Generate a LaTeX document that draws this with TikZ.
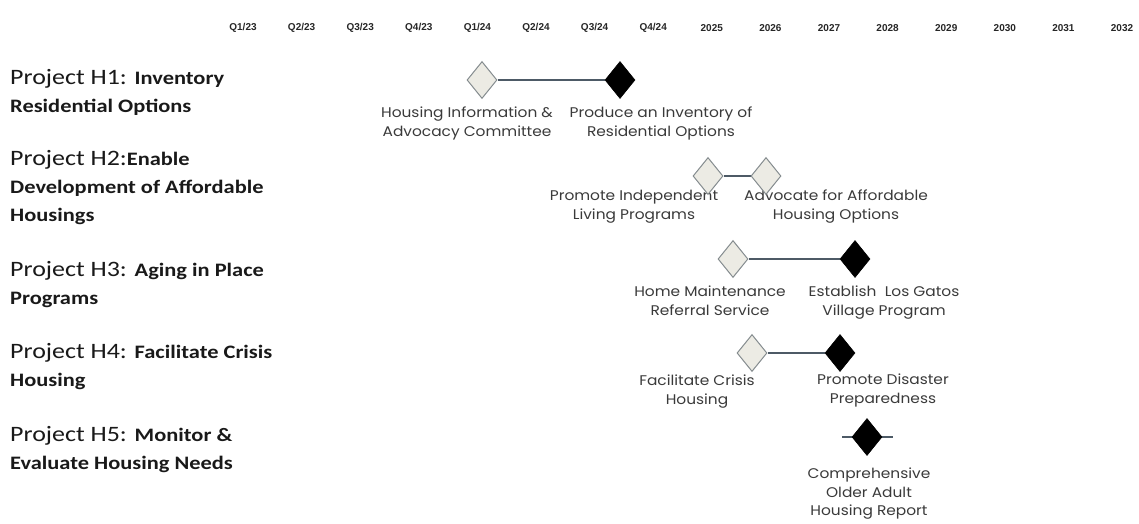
\documentclass[tikz,border=0pt]{standalone}
\usepackage{fontspec}
\setmainfont{Carlito}
\newfontfamily\projfont[FakeStretch=1.18]{Carlito}
\newfontfamily\gothic[FakeStretch=1.1]{Poppins}
\newfontfamily\hdrfont{Liberation Sans}
\usetikzlibrary{shapes.geometric}
\pgfdeclarelayer{background}
\pgfsetlayers{background,main}
\definecolor{msborder}{HTML}{858C8F}
\definecolor{msfill}{HTML}{ECEBE4}
\definecolor{linkc}{HTML}{4D5A66}
\definecolor{lbltext}{HTML}{3A3A3A}
\newcommand{\projb}[1]{{\fontsize{19}{28}\selectfont\bfseries #1}}
\begin{document}
\begin{tikzpicture}[x=1pt,y=-1pt,
  hdrlbl/.style={font=\hdrfont\bfseries\fontsize{10}{12}\selectfont, text=black!85, inner sep=0pt},
  proj/.style={font=\projfont\fontsize{22}{28}\selectfont, align=left, anchor=west, inner sep=0pt, text=black!90},
  ms/.style={diamond, draw=msborder, fill=msfill, line width=1pt, minimum width=30pt, minimum height=37pt, inner sep=0pt},
  msdone/.style={diamond, draw=black, fill=black, line width=0.6pt, minimum width=30pt, minimum height=37pt, inner sep=0pt},
  mslbl/.style={font=\gothic\fontsize{14}{18.5}\selectfont, align=center, anchor=north, inner sep=0pt, text=lbltext},
  link/.style={draw=linkc, line width=1.3pt}]
\useasboundingbox (0,0) rectangle (1139,523);

% header
\foreach \t [count=\i from 0] in {Q1/23,Q2/23,Q3/23,Q4/23,Q1/24,Q2/24,Q3/24,Q4/24,2025,2026,2027,2028,2029,2030,2031,2032}
  \node[hdrlbl] (hq\i) at ({243+58.6*\i},28) {\t};

% project labels
\node[proj] (p1) at (10,92) {Project H1: \projb{Inventory}\\\projb{Residential Options}};
\node[proj] (p2) at (10,188) {Project H2:\projb{Enable}\\\projb{Development of Affordable}\\\projb{Housings}};
\node[proj] (p3) at (10,285) {Project H3: \projb{Aging in Place}\\\projb{Programs}};
\node[proj] (p4) at (10,367) {Project H4: \projb{Facilitate Crisis}\\\projb{Housing}};
\node[proj] (p5) at (10,450) {Project H5: \projb{Monitor \&}\\\projb{Evaluate Housing Needs}};

% milestone labels
\node[mslbl] (l1a) at (467,107) {Housing Information \&\\Advocacy Committee};
\node[mslbl] (l1b) at (661,107) {Produce an Inventory of\\Residential Options};
\node[mslbl] (l2a) at (634,190) {Promote Independent\\Living Programs};
\node[mslbl] (l2b) at (836,190) {Advocate for Affordable\\Housing Options};
\node[mslbl] (l3a) at (710,286) {Home Maintenance\\Referral Service};
\node[mslbl] (l3b) at (884,286) {Establish\ \ Los Gatos\\Village Program};
\node[mslbl] (l4a) at (697,375) {Facilitate Crisis\\Housing};
\node[mslbl] (l4b) at (883,374) {Promote Disaster\\Preparedness};
\node[mslbl] (l5a) at (869,468) {Comprehensive\\Older Adult\\Housing Report};

% milestones
\node[ms] (m1a) at (482,80) {};
\node[msdone] (m1b) at (620,80) {};
\node[ms] (m2a) at (708,176) {};
\node[ms] (m2b) at (766,176) {};
\node[ms] (m3a) at (733,259) {};
\node[msdone] (m3b) at (855,259) {};
\node[ms] (m4a) at (752,353) {};
\node[msdone] (m4b) at (840,353) {};
\node[msdone] (m5a) at (867,437) {};
\coordinate (m5l) at (842,437);
\coordinate (m5r) at (893,437);

\begin{pgfonlayer}{background}
\draw[link] (m1a) -- (m1b);
\draw[link] (m2a) -- (m2b);
\draw[link] (m3a) -- (m3b);
\draw[link] (m4a) -- (m4b);
\draw[link] (m5l) -- (m5r);
\end{pgfonlayer}
\end{tikzpicture}
\end{document}
